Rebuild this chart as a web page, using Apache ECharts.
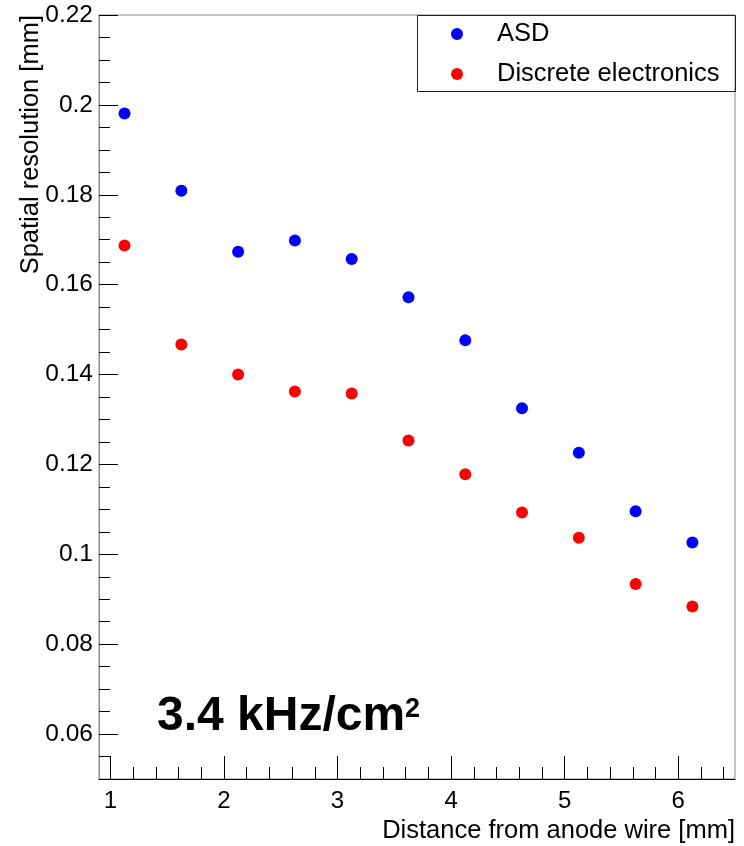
<!DOCTYPE html>
<html>
<head>
<meta charset="utf-8">
<script src="https://cdn.jsdelivr.net/npm/echarts@6/dist/echarts.min.js"></script>
<style>
html,body{margin:0;padding:0;background:#fff;}
#chart{width:744px;height:846px;}
</style>
</head>
<body>
<div id="chart"></div>
<script>
// ---- data ----
const distance = [1.125, 1.625, 2.125, 2.625, 3.125, 3.625, 4.125, 4.625, 5.125, 5.625, 6.125];
const asdValues = [0.1981, 0.1809, 0.1673, 0.1698, 0.1657, 0.1572, 0.1476, 0.1325, 0.1226, 0.1096, 0.1026];
const discreteValues = [0.1687, 0.1467, 0.1400, 0.1362, 0.1358, 0.1253, 0.1178, 0.1093, 0.1037, 0.0934, 0.0884];
const xTickLabels = [1, 2, 3, 4, 5, 6];
const yTickLabels = [0.06, 0.08, 0.10, 0.12, 0.14, 0.16, 0.18, 0.20, 0.22];
const seriesNames = ['ASD', 'Discrete electronics'];
const xTitle = 'Distance from anode wire [mm]';
const yTitle = 'Spatial resolution [mm]';
const rateText = '3.4 kHz/cm';
const rateSup = '2';

// minor ticks
const xMinor = [];
for (let i = 5; i <= 32; i++) { if (i % 5 !== 0) xMinor.push(+(i * 0.2).toFixed(3)); }
const yMinor = [];
for (let i = 11; i <= 43; i++) { if (i % 4 !== 0) yMinor.push(+(i * 0.005).toFixed(4)); }

const FONT = 'Liberation Sans, Arial, Helvetica, sans-serif';
const X_MIN = 0.9, X_MAX = 6.5, Y_MIN = 0.05, Y_MAX = 0.22;

const chart = echarts.init(document.getElementById('chart'), null, {renderer: 'canvas'});
const pts = (xs, ys) => xs.map((x, i) => [x, ys[i]]);

chart.setOption({
  animation: false,
  backgroundColor: '#fff',
  grid: {left: 99, top: 15, right: 9, bottom: 67, show: true, borderColor: '#8a8a8a', borderWidth: 1, backgroundColor: 'transparent'},
  xAxis: [
    {
      type: 'value', min: X_MIN, max: X_MAX, position: 'bottom',
      axisLine: {show: true, onZero: false, lineStyle: {color: '#000', width: 1}},
      axisTick: {show: true, inside: true, length: 23, customValues: xTickLabels, lineStyle: {color: '#000'}},
      axisLabel: {show: true, customValues: xTickLabels, margin: 10, color: '#000', fontSize: 24, fontFamily: FONT, formatter: v => String(v)},
      splitLine: {show: false}
    },
    {
      type: 'value', min: X_MIN, max: X_MAX, position: 'bottom',
      axisLine: {show: false, onZero: false},
      axisTick: {show: true, inside: true, length: 12, customValues: xMinor, lineStyle: {color: '#000'}},
      axisLabel: {show: false},
      splitLine: {show: false}
    }
  ],
  yAxis: [
    {
      type: 'value', min: Y_MIN, max: Y_MAX, position: 'left',
      axisLine: {show: true, onZero: false, lineStyle: {color: '#8a8a8a', width: 1}},
      axisTick: {show: true, inside: true, length: 19, customValues: yTickLabels, lineStyle: {color: '#000'}},
      axisLabel: {show: true, customValues: yTickLabels, margin: 6, color: '#000', fontSize: 24.5, fontFamily: FONT,
        formatter: v => String(+(+v).toFixed(3))},
      splitLine: {show: false}
    },
    {
      type: 'value', min: Y_MIN, max: Y_MAX, position: 'left',
      axisLine: {show: false, onZero: false},
      axisTick: {show: true, inside: true, length: 11, customValues: yMinor, lineStyle: {color: '#000'}},
      axisLabel: {show: false},
      splitLine: {show: false}
    }
  ],
  legend: {
    show: true, orient: 'vertical', left: 417, top: 15,
    padding: [6, 10, 8, 34], itemGap: 14, itemWidth: 12, itemHeight: 12,
    icon: 'circle',
    textStyle: {fontSize: 25.5, fontFamily: FONT, color: '#000', lineHeight: 24, padding: [0, 0, 0, 29]},
    data: seriesNames
  },
  series: [
    {name: seriesNames[0], type: 'scatter', xAxisIndex: 0, yAxisIndex: 0, symbol: 'circle', symbolSize: 12,
     itemStyle: {color: '#0000ff', opacity: 1}, data: pts(distance, asdValues), z: 5},
    {name: seriesNames[1], type: 'scatter', xAxisIndex: 0, yAxisIndex: 0, symbol: 'circle', symbolSize: 12,
     itemStyle: {color: '#ff0000', opacity: 1}, data: pts(distance, discreteValues), z: 5}
  ],
  graphic: [
    {type: 'rect', left: 417, top: 15, shape: {width: 318, height: 76}, silent: true, z: 1,
     style: {fill: 'transparent', stroke: '#222', lineWidth: 1}},
    {type: 'text', x: 735, y: 831, silent: true,
     style: {text: xTitle, font: '25.5px ' + FONT, fill: '#000', align: 'right', verticalAlign: 'middle'}},
    {type: 'text', x: 31, y: 15, rotation: Math.PI / 2, silent: true,
     style: {text: yTitle, font: '25.5px ' + FONT, fill: '#000', align: 'right', verticalAlign: 'middle'}},
    {type: 'text', x: 157, y: 693, silent: true,
     style: {text: rateText, font: 'bold 48px ' + FONT, fill: '#000', align: 'left', verticalAlign: 'top'}},
    {type: 'text', x: 405, y: 696, silent: true,
     style: {text: rateSup, font: 'bold 27px ' + FONT, fill: '#000', align: 'left', verticalAlign: 'top'}}
  ]
});
</script>
</body>
</html>
